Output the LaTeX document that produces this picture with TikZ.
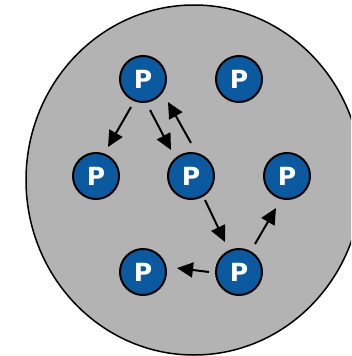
\documentclass[tikz,border=0pt]{standalone}
\usepackage{fontspec}
\setmainfont{DejaVu Sans}
\usetikzlibrary{arrows.meta}
\definecolor{pblue}{HTML}{0B5AA0}
\definecolor{bggray}{HTML}{B3B3B3}
\tikzset{
  pnode/.style={circle, draw=black, line width=2pt, fill=pblue, minimum size=46pt, inner sep=0pt,
    text=white, font=\fontsize{25}{25}\selectfont\bfseries},
  arr/.style={line width=2pt, -{Triangle[length=16pt,width=15pt]}}
}
\begin{document}
\begin{tikzpicture}[x=1pt,y=-1pt]
\useasboundingbox (0,0) rectangle (351,356);
\begin{scope}
\clip (0,0) rectangle (351,356);
\draw[fill=bggray, line width=1.5pt] (194,180) ellipse [x radius=168, y radius=175];
\end{scope}
\node[pnode] (A) at (143,79) {P};
\node[pnode] (B) at (239,79) {P};
\node[pnode] (C) at (96,176) {P};
\node[pnode] (D) at (191,176) {P};
\node[pnode] (E) at (287,176) {P};
\node[pnode] (F) at (143,272) {P};
\node[pnode] (G) at (239,272) {P};
\draw[arr] ([shift={(-12,28)}]A.center) -- ([shift={(12,-29)}]C.center);
\draw[arr] ([shift={(7,31)}]A.center) -- ([shift={(-20,-26)}]D.center);
\draw[arr] ([shift={(0,-33)}]D.center) -- ([shift={(25,23)}]A.center);
\draw[arr] ([shift={(14,24)}]D.center) -- ([shift={(-14,-30)}]G.center);
\draw[arr] ([shift={(16,-28)}]G.center) -- ([shift={(-11,32)}]E.center);
\draw[arr] ([shift={(-30,0)}]G.center) -- ([shift={(34,-4)}]F.center);
\end{tikzpicture}
\end{document}
